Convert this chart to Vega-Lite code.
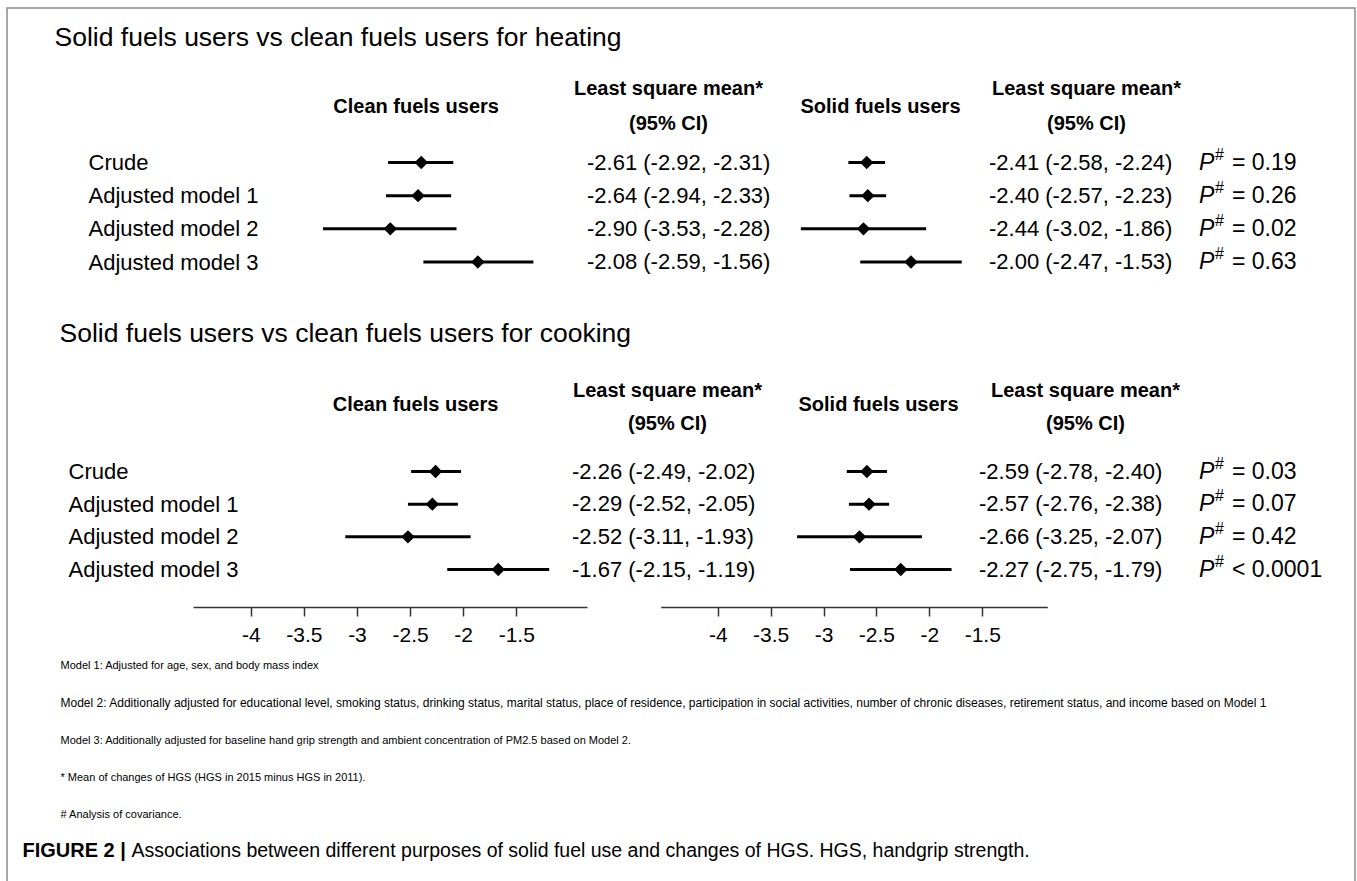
{
  "$schema": "https://vega.github.io/schema/vega-lite/v6.json",
  "width": 1348,
  "height": 880,
  "autosize": "none",
  "padding": {"left": 7, "top": 8, "right": 2, "bottom": 0},
  "background": "white",
  "config": {
    "font": "Liberation Sans",
    "view": {"stroke": "#8c8c8c", "strokeWidth": 1.5},
    "axis": {"grid": false}
  },
  "datasets": {
    "forest": [
      {"purpose": "heating", "group": "Clean fuels users", "model": "Crude", "mean": -2.61, "lower": -2.92, "upper": -2.31, "ci": "-2.61 (-2.92, -2.31)"},
      {"purpose": "heating", "group": "Clean fuels users", "model": "Adjusted model 1", "mean": -2.64, "lower": -2.94, "upper": -2.33, "ci": "-2.64 (-2.94, -2.33)"},
      {"purpose": "heating", "group": "Clean fuels users", "model": "Adjusted model 2", "mean": -2.90, "lower": -3.53, "upper": -2.28, "ci": "-2.90 (-3.53, -2.28)"},
      {"purpose": "heating", "group": "Clean fuels users", "model": "Adjusted model 3", "mean": -2.08, "lower": -2.59, "upper": -1.56, "ci": "-2.08 (-2.59, -1.56)"},
      {"purpose": "heating", "group": "Solid fuels users", "model": "Crude", "mean": -2.41, "lower": -2.58, "upper": -2.24, "ci": "-2.41 (-2.58, -2.24)"},
      {"purpose": "heating", "group": "Solid fuels users", "model": "Adjusted model 1", "mean": -2.40, "lower": -2.57, "upper": -2.23, "ci": "-2.40 (-2.57, -2.23)"},
      {"purpose": "heating", "group": "Solid fuels users", "model": "Adjusted model 2", "mean": -2.44, "lower": -3.02, "upper": -1.86, "ci": "-2.44 (-3.02, -1.86)"},
      {"purpose": "heating", "group": "Solid fuels users", "model": "Adjusted model 3", "mean": -2.00, "lower": -2.47, "upper": -1.53, "ci": "-2.00 (-2.47, -1.53)"},
      {"purpose": "cooking", "group": "Clean fuels users", "model": "Crude", "mean": -2.26, "lower": -2.49, "upper": -2.02, "ci": "-2.26 (-2.49, -2.02)"},
      {"purpose": "cooking", "group": "Clean fuels users", "model": "Adjusted model 1", "mean": -2.29, "lower": -2.52, "upper": -2.05, "ci": "-2.29 (-2.52, -2.05)"},
      {"purpose": "cooking", "group": "Clean fuels users", "model": "Adjusted model 2", "mean": -2.52, "lower": -3.11, "upper": -1.93, "ci": "-2.52 (-3.11, -1.93)"},
      {"purpose": "cooking", "group": "Clean fuels users", "model": "Adjusted model 3", "mean": -1.67, "lower": -2.15, "upper": -1.19, "ci": "-1.67 (-2.15, -1.19)"},
      {"purpose": "cooking", "group": "Solid fuels users", "model": "Crude", "mean": -2.59, "lower": -2.78, "upper": -2.40, "ci": "-2.59 (-2.78, -2.40)"},
      {"purpose": "cooking", "group": "Solid fuels users", "model": "Adjusted model 1", "mean": -2.57, "lower": -2.76, "upper": -2.38, "ci": "-2.57 (-2.76, -2.38)"},
      {"purpose": "cooking", "group": "Solid fuels users", "model": "Adjusted model 2", "mean": -2.66, "lower": -3.25, "upper": -2.07, "ci": "-2.66 (-3.25, -2.07)"},
      {"purpose": "cooking", "group": "Solid fuels users", "model": "Adjusted model 3", "mean": -2.27, "lower": -2.75, "upper": -1.79, "ci": "-2.27 (-2.75, -1.79)"}
    ],
    "pvalues": [
      {"purpose": "heating", "model": "Crude", "p": "= 0.19"},
      {"purpose": "heating", "model": "Adjusted model 1", "p": "= 0.26"},
      {"purpose": "heating", "model": "Adjusted model 2", "p": "= 0.02"},
      {"purpose": "heating", "model": "Adjusted model 3", "p": "= 0.63"},
      {"purpose": "cooking", "model": "Crude", "p": "= 0.03"},
      {"purpose": "cooking", "model": "Adjusted model 1", "p": "= 0.07"},
      {"purpose": "cooking", "model": "Adjusted model 2", "p": "= 0.42"},
      {"purpose": "cooking", "model": "Adjusted model 3", "p": "< 0.0001"}
    ]
  },
  "resolve": {"scale": {"x": "independent", "y": "independent"}},
  "layer": [
    {
      "data": {"name": "forest"},
      "transform": [{"filter": "datum.purpose === 'heating' && datum.group === 'Clean fuels users'"}],
      "mark": {"type": "rule", "strokeWidth": 3, "color": "black"},
      "encoding": {
        "x": {"field": "lower", "type": "quantitative", "scale": {"domain": [-4, -1.5], "range": [265.8, 532.8], "zero": false, "nice": false},
          "axis": {"orient": "top", "domain": false, "ticks": false, "labels": false, "grid": false, "title": "Clean fuels users", "titleX": 408.6, "titleY": 98, "titleAlign": "center", "titleBaseline": "middle", "titleFontSize": 20, "titleFontWeight": "bold", "titleColor": "black", "titleFont": "Liberation Sans"}},
        "x2": {"field": "upper"},
        "y": {"field": "model", "type": "nominal", "scale": {"type": "point", "domain": ["Crude", "Adjusted model 1", "Adjusted model 2", "Adjusted model 3"], "range": [154.5, 254], "padding": 0},
          "axis": {"orient": "left", "offset": -81, "domain": false, "ticks": false, "tickSize": 0, "labelPadding": 0, "labelAlign": "left", "labelBaseline": "middle", "labelFontSize": 22, "labelColor": "black", "labelFont": "Liberation Sans", "labelLimit": 0, "grid": false,
            "title": "Solid fuels users vs clean fuels users for heating", "titleAngle": 0, "titleAlign": "left", "titleBaseline": "middle", "titleX": -34, "titleY": 29, "titleFontSize": 26.5, "titleFontWeight": "normal", "titleColor": "black", "titleFont": "Liberation Sans", "titleLimit": 0}}
      }
    },
    {
      "data": {"name": "forest"},
      "transform": [{"filter": "datum.purpose === 'heating' && datum.group === 'Clean fuels users'"}],
      "mark": {"type": "point", "shape": "diamond", "filled": true, "size": 180, "color": "black", "opacity": 1},
      "encoding": {
        "x": {"field": "mean", "type": "quantitative", "scale": {"domain": [-4, -1.5], "range": [265.8, 532.8], "zero": false, "nice": false}, "axis": null},
        "y": {"field": "model", "type": "nominal", "scale": {"type": "point", "domain": ["Crude", "Adjusted model 1", "Adjusted model 2", "Adjusted model 3"], "range": [154.5, 254], "padding": 0}, "axis": null}
      }
    },
    {
      "data": {"name": "forest"},
      "transform": [{"filter": "datum.purpose === 'heating' && datum.group === 'Solid fuels users'"}],
      "mark": {"type": "rule", "strokeWidth": 3, "color": "black"},
      "encoding": {
        "x": {"field": "lower", "type": "quantitative", "scale": {"domain": [-4, -1.5], "range": [688, 958], "zero": false, "nice": false},
          "axis": {"orient": "top", "domain": false, "ticks": false, "labels": false, "grid": false, "title": "Solid fuels users", "titleX": 873, "titleY": 98, "titleAlign": "center", "titleBaseline": "middle", "titleFontSize": 20, "titleFontWeight": "bold", "titleColor": "black", "titleFont": "Liberation Sans"}},
        "x2": {"field": "upper"},
        "y": {"field": "model", "type": "nominal", "scale": {"type": "point", "domain": ["Crude", "Adjusted model 1", "Adjusted model 2", "Adjusted model 3"], "range": [154.5, 254], "padding": 0}, "axis": null}
      }
    },
    {
      "data": {"name": "forest"},
      "transform": [{"filter": "datum.purpose === 'heating' && datum.group === 'Solid fuels users'"}],
      "mark": {"type": "point", "shape": "diamond", "filled": true, "size": 180, "color": "black", "opacity": 1},
      "encoding": {
        "x": {"field": "mean", "type": "quantitative", "scale": {"domain": [-4, -1.5], "range": [688, 958], "zero": false, "nice": false}, "axis": null},
        "y": {"field": "model", "type": "nominal", "scale": {"type": "point", "domain": ["Crude", "Adjusted model 1", "Adjusted model 2", "Adjusted model 3"], "range": [154.5, 254], "padding": 0}, "axis": null}
      }
    },
    {
      "data": {"name": "forest"},
      "transform": [{"filter": "datum.purpose === 'heating' && datum.group === 'Clean fuels users'"}],
      "mark": {"type": "text", "align": "left", "baseline": "middle", "fontSize": 22, "color": "black", "font": "Liberation Sans"},
      "encoding": {
        "text": {"field": "ci"},
        "x": {"field": "group", "type": "nominal", "scale": {"type": "point", "domain": ["Clean fuels users"], "range": [580, 580], "padding": 0},
          "axis": {"orient": "top", "domain": false, "ticks": false, "labels": false, "grid": false, "title": ["Least square mean*", "(95% CI)"], "titleX": 661, "titleY": 80.5, "titleLineHeight": 35, "titleAlign": "center", "titleBaseline": "middle", "titleFontSize": 20, "titleFontWeight": "bold", "titleColor": "black", "titleFont": "Liberation Sans"}},
        "y": {"field": "model", "type": "nominal", "scale": {"type": "point", "domain": ["Crude", "Adjusted model 1", "Adjusted model 2", "Adjusted model 3"], "range": [154.5, 254], "padding": 0}, "axis": null}
      }
    },
    {
      "data": {"name": "forest"},
      "transform": [{"filter": "datum.purpose === 'heating' && datum.group === 'Solid fuels users'"}],
      "mark": {"type": "text", "align": "left", "baseline": "middle", "fontSize": 22, "color": "black", "font": "Liberation Sans"},
      "encoding": {
        "text": {"field": "ci"},
        "x": {"field": "group", "type": "nominal", "scale": {"type": "point", "domain": ["Solid fuels users"], "range": [982, 982], "padding": 0},
          "axis": {"orient": "top", "domain": false, "ticks": false, "labels": false, "grid": false, "title": ["Least square mean*", "(95% CI)"], "titleX": 1079, "titleY": 80.5, "titleLineHeight": 35, "titleAlign": "center", "titleBaseline": "middle", "titleFontSize": 20, "titleFontWeight": "bold", "titleColor": "black", "titleFont": "Liberation Sans"}},
        "y": {"field": "model", "type": "nominal", "scale": {"type": "point", "domain": ["Crude", "Adjusted model 1", "Adjusted model 2", "Adjusted model 3"], "range": [154.5, 254], "padding": 0}, "axis": null}
      }
    },
    {
      "data": {"name": "pvalues"},
      "transform": [{"filter": "datum.purpose === 'heating'"}],
      "mark": {"type": "text", "align": "left", "baseline": "middle", "fontSize": 23, "fontStyle": "italic", "color": "black", "font": "Liberation Sans"},
      "encoding": {
        "text": {"value": "P"},
        "x": {"field": "purpose", "type": "nominal", "scale": {"type": "point", "domain": ["heating"], "range": [1192, 1192], "padding": 0}, "axis": null},
        "y": {"field": "model", "type": "nominal", "scale": {"type": "point", "domain": ["Crude", "Adjusted model 1", "Adjusted model 2", "Adjusted model 3"], "range": [154.5, 254], "padding": 0},
          "axis": {"orient": "left", "domain": false, "ticks": false, "labels": false, "grid": false,
            "title": "Model 2: Additionally adjusted for educational level, smoking status, drinking status, marital status, place of residence, participation in social activities, number of chronic diseases, retirement status, and income based on Model 1",
            "titleAngle": 0, "titleAlign": "left", "titleBaseline": "middle", "titleX": 53, "titleY": 694.5, "titleFontSize": 12, "titleFontWeight": "normal", "titleColor": "black", "titleFont": "Liberation Sans", "titleLimit": 0}}
      }
    },
    {
      "data": {"name": "pvalues"},
      "transform": [{"filter": "datum.purpose === 'heating'"}],
      "mark": {"type": "text", "align": "left", "baseline": "middle", "fontSize": 16, "dx": 16, "dy": -8, "color": "black", "font": "Liberation Sans"},
      "encoding": {
        "text": {"value": "#"},
        "x": {"field": "purpose", "type": "nominal", "scale": {"type": "point", "domain": ["heating"], "range": [1192, 1192], "padding": 0}, "axis": null},
        "y": {"field": "model", "type": "nominal", "scale": {"type": "point", "domain": ["Crude", "Adjusted model 1", "Adjusted model 2", "Adjusted model 3"], "range": [154.5, 254], "padding": 0},
          "axis": {"orient": "left", "domain": false, "ticks": false, "labels": false, "grid": false,
            "title": ["Model 3: Additionally adjusted for baseline hand grip strength and ambient concentration of PM2.5 based on Model 2.", "* Mean of changes of HGS (HGS in 2015 minus HGS in 2011).", "# Analysis of covariance."],
            "titleAngle": 0, "titleAlign": "left", "titleBaseline": "middle", "titleX": 53, "titleY": 732, "titleLineHeight": 37.3, "titleFontSize": 11, "titleFontWeight": "normal", "titleColor": "black", "titleFont": "Liberation Sans", "titleLimit": 0}}
      }
    },
    {
      "data": {"name": "pvalues"},
      "transform": [{"filter": "datum.purpose === 'heating'"}],
      "mark": {"type": "text", "align": "left", "baseline": "middle", "fontSize": 23, "dx": 33, "color": "black", "font": "Liberation Sans"},
      "encoding": {
        "text": {"field": "p"},
        "x": {"field": "purpose", "type": "nominal", "scale": {"type": "point", "domain": ["heating"], "range": [1192, 1192], "padding": 0}, "axis": null},
        "y": {"field": "model", "type": "nominal", "scale": {"type": "point", "domain": ["Crude", "Adjusted model 1", "Adjusted model 2", "Adjusted model 3"], "range": [154.5, 254], "padding": 0}, "axis": null}
      }
    },
    {
      "data": {"name": "forest"},
      "transform": [{"filter": "datum.purpose === 'cooking' && datum.group === 'Clean fuels users'"}],
      "mark": {"type": "rule", "strokeWidth": 3, "color": "black"},
      "encoding": {
        "x": {"field": "lower", "type": "quantitative", "scale": {"domain": [-4.544, -0.834], "range": [186, 580], "zero": false, "nice": false},
          "axis": {"orient": "bottom", "offset": -281, "values": [-4, -3.5, -3, -2.5, -2, -1.5], "labelExpr": "datum.value + ''", "domainColor": "#333333", "domainWidth": 1.5, "tickColor": "#333333", "tickWidth": 1.5, "tickSize": 9, "labelFontSize": 21, "labelColor": "black", "labelFont": "Liberation Sans", "labelPadding": 8, "labelFlush": false, "labelOverlap": false, "grid": false, "title": null}},
        "x2": {"field": "upper"},
        "y": {"field": "model", "type": "nominal", "scale": {"type": "point", "domain": ["Crude", "Adjusted model 1", "Adjusted model 2", "Adjusted model 3"], "range": [463.5, 561.5], "padding": 0},
          "axis": {"orient": "left", "offset": -61, "domain": false, "ticks": false, "tickSize": 0, "labelPadding": 0, "labelAlign": "left", "labelBaseline": "middle", "labelFontSize": 22, "labelColor": "black", "labelFont": "Liberation Sans", "labelLimit": 0, "grid": false,
            "title": "Solid fuels users vs clean fuels users for cooking", "titleAngle": 0, "titleAlign": "left", "titleBaseline": "middle", "titleX": -9, "titleY": 325, "titleFontSize": 26.5, "titleFontWeight": "normal", "titleColor": "black", "titleFont": "Liberation Sans", "titleLimit": 0}}
      }
    },
    {
      "data": {"name": "forest"},
      "transform": [{"filter": "datum.purpose === 'cooking' && datum.group === 'Clean fuels users'"}],
      "mark": {"type": "point", "shape": "diamond", "filled": true, "size": 180, "color": "black", "opacity": 1},
      "encoding": {
        "x": {"field": "mean", "type": "quantitative", "scale": {"domain": [-4.544, -0.834], "range": [186, 580], "zero": false, "nice": false},
          "axis": {"orient": "top", "domain": false, "ticks": false, "labels": false, "grid": false, "title": "Clean fuels users", "titleX": 408, "titleY": 396, "titleAlign": "center", "titleBaseline": "middle", "titleFontSize": 20, "titleFontWeight": "bold", "titleColor": "black", "titleFont": "Liberation Sans"}},
        "y": {"field": "model", "type": "nominal", "scale": {"type": "point", "domain": ["Crude", "Adjusted model 1", "Adjusted model 2", "Adjusted model 3"], "range": [463.5, 561.5], "padding": 0}, "axis": null}
      }
    },
    {
      "data": {"name": "forest"},
      "transform": [{"filter": "datum.purpose === 'cooking' && datum.group === 'Solid fuels users'"}],
      "mark": {"type": "rule", "strokeWidth": 3, "color": "black"},
      "encoding": {
        "x": {"field": "lower", "type": "quantitative", "scale": {"domain": [-4.539, -0.885], "range": [653.7, 1040.3], "zero": false, "nice": false},
          "axis": {"orient": "bottom", "offset": -281, "values": [-4, -3.5, -3, -2.5, -2, -1.5], "labelExpr": "datum.value + ''", "domainColor": "#333333", "domainWidth": 1.5, "tickColor": "#333333", "tickWidth": 1.5, "tickSize": 9, "labelFontSize": 21, "labelColor": "black", "labelFont": "Liberation Sans", "labelPadding": 8, "labelFlush": false, "labelOverlap": false, "grid": false, "title": null}},
        "x2": {"field": "upper"},
        "y": {"field": "model", "type": "nominal", "scale": {"type": "point", "domain": ["Crude", "Adjusted model 1", "Adjusted model 2", "Adjusted model 3"], "range": [463.5, 561.5], "padding": 0}, "axis": null}
      }
    },
    {
      "data": {"name": "forest"},
      "transform": [{"filter": "datum.purpose === 'cooking' && datum.group === 'Solid fuels users'"}],
      "mark": {"type": "point", "shape": "diamond", "filled": true, "size": 180, "color": "black", "opacity": 1},
      "encoding": {
        "x": {"field": "mean", "type": "quantitative", "scale": {"domain": [-4.539, -0.885], "range": [653.7, 1040.3], "zero": false, "nice": false},
          "axis": {"orient": "top", "domain": false, "ticks": false, "labels": false, "grid": false, "title": "Solid fuels users", "titleX": 871, "titleY": 396, "titleAlign": "center", "titleBaseline": "middle", "titleFontSize": 20, "titleFontWeight": "bold", "titleColor": "black", "titleFont": "Liberation Sans"}},
        "y": {"field": "model", "type": "nominal", "scale": {"type": "point", "domain": ["Crude", "Adjusted model 1", "Adjusted model 2", "Adjusted model 3"], "range": [463.5, 561.5], "padding": 0}, "axis": null}
      }
    },
    {
      "data": {"name": "forest"},
      "transform": [{"filter": "datum.purpose === 'cooking' && datum.group === 'Clean fuels users'"}],
      "mark": {"type": "text", "align": "left", "baseline": "middle", "fontSize": 22, "color": "black", "font": "Liberation Sans"},
      "encoding": {
        "text": {"field": "ci"},
        "x": {"field": "group", "type": "nominal", "scale": {"type": "point", "domain": ["Clean fuels users"], "range": [565, 565], "padding": 0},
          "axis": {"orient": "top", "domain": false, "ticks": false, "labels": false, "grid": false, "title": ["Least square mean*", "(95% CI)"], "titleX": 660, "titleY": 382.5, "titleLineHeight": 33, "titleAlign": "center", "titleBaseline": "middle", "titleFontSize": 20, "titleFontWeight": "bold", "titleColor": "black", "titleFont": "Liberation Sans"}},
        "y": {"field": "model", "type": "nominal", "scale": {"type": "point", "domain": ["Crude", "Adjusted model 1", "Adjusted model 2", "Adjusted model 3"], "range": [463.5, 561.5], "padding": 0}, "axis": null}
      }
    },
    {
      "data": {"name": "forest"},
      "transform": [{"filter": "datum.purpose === 'cooking' && datum.group === 'Solid fuels users'"}],
      "mark": {"type": "text", "align": "left", "baseline": "middle", "fontSize": 22, "color": "black", "font": "Liberation Sans"},
      "encoding": {
        "text": {"field": "ci"},
        "x": {"field": "group", "type": "nominal", "scale": {"type": "point", "domain": ["Solid fuels users"], "range": [972, 972], "padding": 0},
          "axis": {"orient": "top", "domain": false, "ticks": false, "labels": false, "grid": false, "title": ["Least square mean*", "(95% CI)"], "titleX": 1078, "titleY": 382.5, "titleLineHeight": 33, "titleAlign": "center", "titleBaseline": "middle", "titleFontSize": 20, "titleFontWeight": "bold", "titleColor": "black", "titleFont": "Liberation Sans"}},
        "y": {"field": "model", "type": "nominal", "scale": {"type": "point", "domain": ["Crude", "Adjusted model 1", "Adjusted model 2", "Adjusted model 3"], "range": [463.5, 561.5], "padding": 0}, "axis": null}
      }
    },
    {
      "data": {"name": "pvalues"},
      "transform": [{"filter": "datum.purpose === 'cooking'"}],
      "mark": {"type": "text", "align": "left", "baseline": "middle", "fontSize": 23, "fontStyle": "italic", "color": "black", "font": "Liberation Sans"},
      "encoding": {
        "text": {"value": "P"},
        "x": {"field": "purpose", "type": "nominal", "scale": {"type": "point", "domain": ["cooking"], "range": [1192, 1192], "padding": 0}, "axis": null},
        "y": {"field": "model", "type": "nominal", "scale": {"type": "point", "domain": ["Crude", "Adjusted model 1", "Adjusted model 2", "Adjusted model 3"], "range": [463.5, 561.5], "padding": 0},
          "axis": {"orient": "left", "domain": false, "ticks": false, "labels": false, "grid": false,
            "title": "Model 1: Adjusted for age, sex, and body mass index",
            "titleAngle": 0, "titleAlign": "left", "titleBaseline": "middle", "titleX": 53, "titleY": 657, "titleFontSize": 11, "titleFontWeight": "normal", "titleColor": "black", "titleFont": "Liberation Sans", "titleLimit": 0}}
      }
    },
    {
      "data": {"name": "pvalues"},
      "transform": [{"filter": "datum.purpose === 'cooking'"}],
      "mark": {"type": "text", "align": "left", "baseline": "middle", "fontSize": 16, "dx": 16, "dy": -8, "color": "black", "font": "Liberation Sans"},
      "encoding": {
        "text": {"value": "#"},
        "x": {"field": "purpose", "type": "nominal", "scale": {"type": "point", "domain": ["cooking"], "range": [1192, 1192], "padding": 0}, "axis": null},
        "y": {"field": "model", "type": "nominal", "scale": {"type": "point", "domain": ["Crude", "Adjusted model 1", "Adjusted model 2", "Adjusted model 3"], "range": [463.5, 561.5], "padding": 0},
          "axis": {"orient": "left", "domain": false, "ticks": false, "labels": false, "grid": false,
            "title": "FIGURE 2 |", "titleAngle": 0, "titleAlign": "left", "titleBaseline": "middle", "titleX": 15, "titleY": 842, "titleFontSize": 20, "titleFontWeight": "bold", "titleColor": "black", "titleFont": "Liberation Sans", "titleLimit": 0}}
      }
    },
    {
      "data": {"name": "pvalues"},
      "transform": [{"filter": "datum.purpose === 'cooking'"}],
      "mark": {"type": "text", "align": "left", "baseline": "middle", "fontSize": 23, "dx": 33, "color": "black", "font": "Liberation Sans"},
      "encoding": {
        "text": {"field": "p"},
        "x": {"field": "purpose", "type": "nominal", "scale": {"type": "point", "domain": ["cooking"], "range": [1192, 1192], "padding": 0}, "axis": null},
        "y": {"field": "model", "type": "nominal", "scale": {"type": "point", "domain": ["Crude", "Adjusted model 1", "Adjusted model 2", "Adjusted model 3"], "range": [463.5, 561.5], "padding": 0},
          "axis": {"orient": "left", "domain": false, "ticks": false, "labels": false, "grid": false,
            "title": "Associations between different purposes of solid fuel use and changes of HGS. HGS, handgrip strength.", "titleAngle": 0, "titleAlign": "left", "titleBaseline": "middle", "titleX": 124, "titleY": 842, "titleFontSize": 19.5, "titleFontWeight": "normal", "titleColor": "black", "titleFont": "Liberation Sans", "titleLimit": 0}}
      }
    }
  ]
}
